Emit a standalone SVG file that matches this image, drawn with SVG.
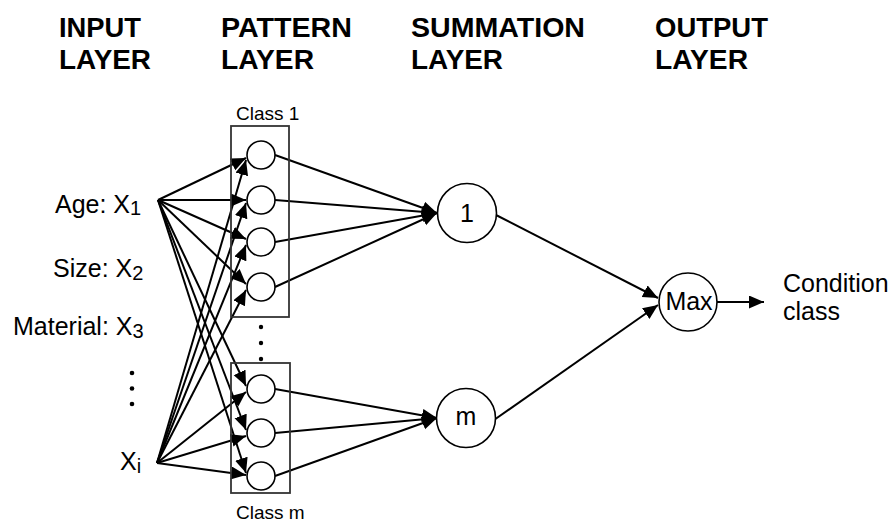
<svg xmlns="http://www.w3.org/2000/svg" width="893" height="524" viewBox="0 0 893 524">
  <style>
    .hdr { font-family: "Liberation Sans", Arial, sans-serif; font-weight: bold; font-size: 27px; fill: #000; }
    .lbl { font-family: "Liberation Sans", Arial, sans-serif; font-size: 25px; fill: #000; }
    .sub { font-size: 20px; }
    .cls { font-family: "Liberation Sans", Arial, sans-serif; font-size: 19px; fill: #000; }
    .node { fill: #fff; stroke: #000; stroke-width: 1.6; }
    .box { fill: none; stroke: #333; stroke-width: 1.8; }
    .edge { stroke: #000; stroke-width: 2; fill: none; marker-end: url(#arrow); }
    .dot { fill: #000; }
  </style>
  <defs>
    <marker id="arrow" markerUnits="userSpaceOnUse" markerWidth="16" markerHeight="14" refX="15" refY="6.5" orient="auto">
      <path d="M0,0 L15,6.5 L0,13 z" fill="#000"/>
    </marker>
  </defs>
  <rect width="893" height="524" fill="#fff"/>

  <!-- column headers -->
  <g id="headers">
    <text class="hdr" x="59" y="37" textLength="82" lengthAdjust="spacingAndGlyphs">INPUT</text>
    <text class="hdr" x="59" y="68.5" textLength="92" lengthAdjust="spacingAndGlyphs">LAYER</text>
    <text class="hdr" x="221" y="37" textLength="131" lengthAdjust="spacingAndGlyphs">PATTERN</text>
    <text class="hdr" x="221" y="68.5" textLength="93" lengthAdjust="spacingAndGlyphs">LAYER</text>
    <text class="hdr" x="411" y="37" textLength="174" lengthAdjust="spacingAndGlyphs">SUMMATION</text>
    <text class="hdr" x="411" y="68.5" textLength="92" lengthAdjust="spacingAndGlyphs">LAYER</text>
    <text class="hdr" x="655" y="37" textLength="113" lengthAdjust="spacingAndGlyphs">OUTPUT</text>
    <text class="hdr" x="655" y="68.5" textLength="93" lengthAdjust="spacingAndGlyphs">LAYER</text>
  </g>

  <!-- input features -->
  <g id="input-x1"><text class="lbl" x="55" y="213">Age: X<tspan class="sub" dy="2">1</tspan></text></g>
  <g id="input-x2"><text class="lbl" x="53" y="277">Size: X<tspan class="sub" dy="3">2</tspan></text></g>
  <g id="input-x3"><text class="lbl" x="13" y="335">Material: X<tspan class="sub" dy="3">3</tspan></text></g>
  <g id="input-dots">
    <circle class="dot" cx="132" cy="373" r="2.3"/>
    <circle class="dot" cx="132" cy="388.5" r="2.3"/>
    <circle class="dot" cx="132" cy="404" r="2.3"/>
  </g>
  <g id="input-xi"><text class="lbl" x="120" y="470">X<tspan class="sub" dy="3">i</tspan></text></g>

  <!-- connectors -->
  <g id="connectors">
    <!-- from X1 -->
    <line class="edge" x1="158" y1="200" x2="246" y2="158"/>
    <line class="edge" x1="158" y1="200" x2="246" y2="200"/>
    <line class="edge" x1="158" y1="200" x2="246" y2="239"/>
    <line class="edge" x1="158" y1="200" x2="246" y2="284"/>
    <line class="edge" x1="158" y1="200" x2="246" y2="386"/>
    <line class="edge" x1="158" y1="200" x2="246" y2="430"/>
    <line class="edge" x1="158" y1="200" x2="246" y2="473"/>
    <!-- from Xi -->
    <line class="edge" x1="157" y1="463" x2="246" y2="160"/>
    <line class="edge" x1="157" y1="463" x2="246" y2="203"/>
    <line class="edge" x1="157" y1="463" x2="246" y2="245"/>
    <line class="edge" x1="157" y1="463" x2="246" y2="290"/>
    <line class="edge" x1="157" y1="463" x2="246" y2="392"/>
    <line class="edge" x1="157" y1="463" x2="246" y2="436"/>
    <line class="edge" x1="157" y1="463" x2="246" y2="475"/>
    <!-- pattern to summation -->
    <line class="edge" x1="275" y1="155" x2="437" y2="213"/>
    <line class="edge" x1="275" y1="200" x2="437" y2="213"/>
    <line class="edge" x1="275" y1="242" x2="437" y2="213"/>
    <line class="edge" x1="275" y1="287" x2="437" y2="213"/>
    <line class="edge" x1="275" y1="389" x2="437" y2="418"/>
    <line class="edge" x1="275" y1="433" x2="437" y2="418"/>
    <line class="edge" x1="275" y1="476" x2="437" y2="418"/>
    <!-- summation to output -->
    <line class="edge" x1="496" y1="215" x2="658" y2="298"/>
    <line class="edge" x1="494" y1="420" x2="658" y2="305"/>
    <!-- output decision -->
    <line class="edge" x1="717" y1="302" x2="764" y2="302"/>
  </g>

  <!-- pattern layer, class 1 -->
  <g id="pattern-class-1">
    <text class="cls" x="236" y="120">Class 1</text>
    <rect class="box" x="231" y="126" width="58" height="191"/>
    <circle class="node" cx="261" cy="155" r="14"/>
    <circle class="node" cx="261" cy="200" r="14"/>
    <circle class="node" cx="261" cy="242" r="14"/>
    <circle class="node" cx="261" cy="287" r="14"/>
  </g>
  <g id="pattern-dots">
    <circle class="dot" cx="261" cy="327" r="2.2"/>
    <circle class="dot" cx="261" cy="343" r="2.2"/>
    <circle class="dot" cx="261" cy="359" r="2.2"/>
  </g>
  <!-- pattern layer, class m -->
  <g id="pattern-class-m">
    <rect class="box" x="231" y="363" width="59" height="130"/>
    <circle class="node" cx="261" cy="389" r="14"/>
    <circle class="node" cx="261" cy="433" r="14"/>
    <circle class="node" cx="261" cy="476" r="14"/>
    <text class="cls" x="236" y="519">Class m</text>
  </g>

  <!-- summation layer -->
  <g id="sum-1">
    <circle class="node" cx="467" cy="213" r="29.5"/>
    <text class="lbl" x="467" y="222" text-anchor="middle">1</text>
  </g>
  <g id="sum-m">
    <circle class="node" cx="466" cy="418" r="29.5"/>
    <text class="lbl" x="466" y="425" text-anchor="middle">m</text>
  </g>

  <!-- output layer -->
  <g id="output-max">
    <circle class="node" cx="688" cy="302" r="29"/>
    <text class="lbl" x="689" y="309.5" text-anchor="middle">Max</text>
  </g>
  <g id="condition-class">
    <text class="lbl" x="783" y="292">Condition</text>
    <text class="lbl" x="783" y="320">class</text>
  </g>
</svg>
